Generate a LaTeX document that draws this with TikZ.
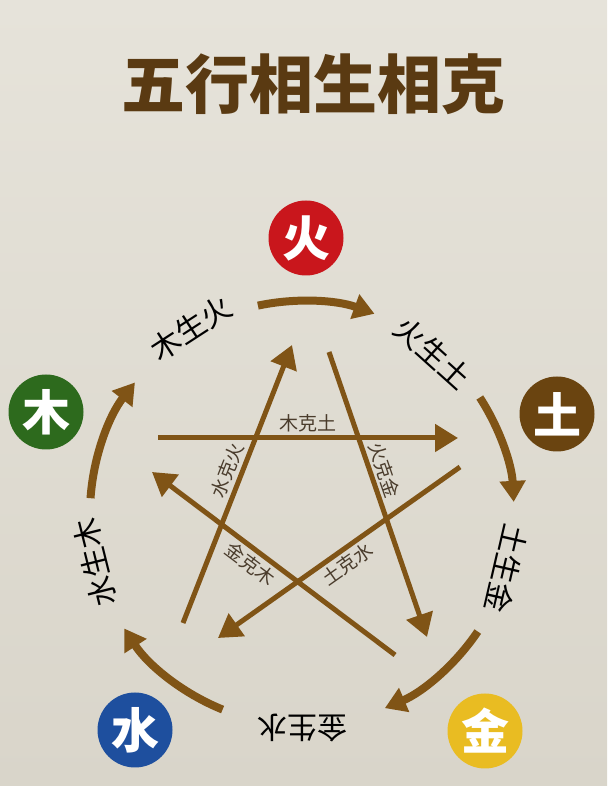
\documentclass[tikz,border=0pt]{standalone}
\usepackage{fontspec}
\newfontfamily\cjk{Noto Sans CJK SC}
\usetikzlibrary{arrows.meta}
\definecolor{paper}{HTML}{E6E3DA}
\definecolor{paperdark}{HTML}{D9D5CA}
\definecolor{arrowbrown}{HTML}{805416}
\definecolor{titlebrown}{HTML}{5A3A12}
\definecolor{kegray}{HTML}{4A3C2C}
\definecolor{firered}{HTML}{C9161C}
\definecolor{woodgreen}{HTML}{2D6A1D}
\definecolor{earthbrown}{HTML}{6A4410}
\definecolor{waterblue}{HTML}{1E4F9E}
\definecolor{metalgold}{HTML}{E9BC22}

\begin{document}
\begin{tikzpicture}[x=1pt,y=1pt]
 \tikzstyle{element} = [circle, inner sep=0pt, minimum size=75pt, text=white, font=\cjk\bfseries\fontsize{48}{48}\selectfont];
 \tikzstyle{sheng} = [draw=arrowbrown, line width=8pt, -{Triangle[length=21pt,width=25pt]}];
 \tikzstyle{ke} = [draw=arrowbrown, line width=5pt, -{Triangle[length=23pt,width=27pt]}];
 \tikzstyle{shenglabel} = [font=\cjk\fontsize{30}{30}\selectfont, text=black];
 \tikzstyle{kelabel} = [font=\cjk\fontsize{19}{19}\selectfont, text=kegray, sloped, inner sep=3pt];
 \shade [top color=paper, bottom color=paperdark] (0,0) rectangle (607,786);
 \useasboundingbox (0,0) rectangle (607,786);
\node [font=\cjk\bfseries\fontsize{64}{64}\selectfont, text=titlebrown] (title) at (313,702) {五行相生相克};

\coordinate (C) at (302,273);
\node [element, fill=firered] (fire) at (306,548) {火};
\node [element, fill=woodgreen] (wood) at (46,374) {木};
\node [element, fill=earthbrown] (earth) at (557,372) {土};
\node [element, fill=waterblue] (water) at (135,56) {水};
\node [element, fill=metalgold] (metal) at (485,55) {金};

\draw [sheng] (C) ++(102:212) arc [start angle=102, end angle=70, radius=212];
\draw [sheng] (C) ++(33:212) arc [start angle=33, end angle=3, radius=212];
\draw [sheng] (C) ++(-34:212) arc [start angle=-34, end angle=-67, radius=212];
\draw [sheng] (C) ++(-112:212) arc [start angle=-112, end angle=-147, radius=212];
\draw [sheng] (C) ++(176:212) arc [start angle=176, end angle=142, radius=212];

\node [shenglabel, rotate=33] (mushenghuo) at (191,458) {木生火};
\node [shenglabel, rotate=-42] (huoshengtu) at (433,433) {火生土};
\node [shenglabel, rotate=-103] (tushengjin) at (507,217) {土生金};
\node [shenglabel, rotate=180] (jinshengshui) at (302,58) {金生水};
\node [shenglabel, rotate=104] (shuishengmu) at (95,223) {水生木};

\coordinate (muke) at (158,348);
\coordinate (ketu) at (458,348);
\coordinate (huoke) at (329,434);
\coordinate (kejin) at (427,149);
\coordinate (tuke) at (460,319);
\coordinate (keshui) at (218,148);
\coordinate (jinke) at (395,131);
\coordinate (kemu) at (152,314);
\coordinate (shuike) at (183,163);
\coordinate (kehuo) at (292,441);

\draw [ke] (muke) -- node [kelabel, above] {木克土} (ketu);
\draw [ke] (shuike) -- node [kelabel, above, pos=0.53] {水克火} (kehuo);
\draw [ke] (huoke) -- node [kelabel, above, pos=0.43] {火克金} (kejin);
\draw [ke] (jinke) -- node [kelabel, below, pos=0.56] {金克木} (kemu);
\draw [ke] (tuke) -- node [kelabel, below] {土克水} (keshui);

\end{tikzpicture}
\end{document}
